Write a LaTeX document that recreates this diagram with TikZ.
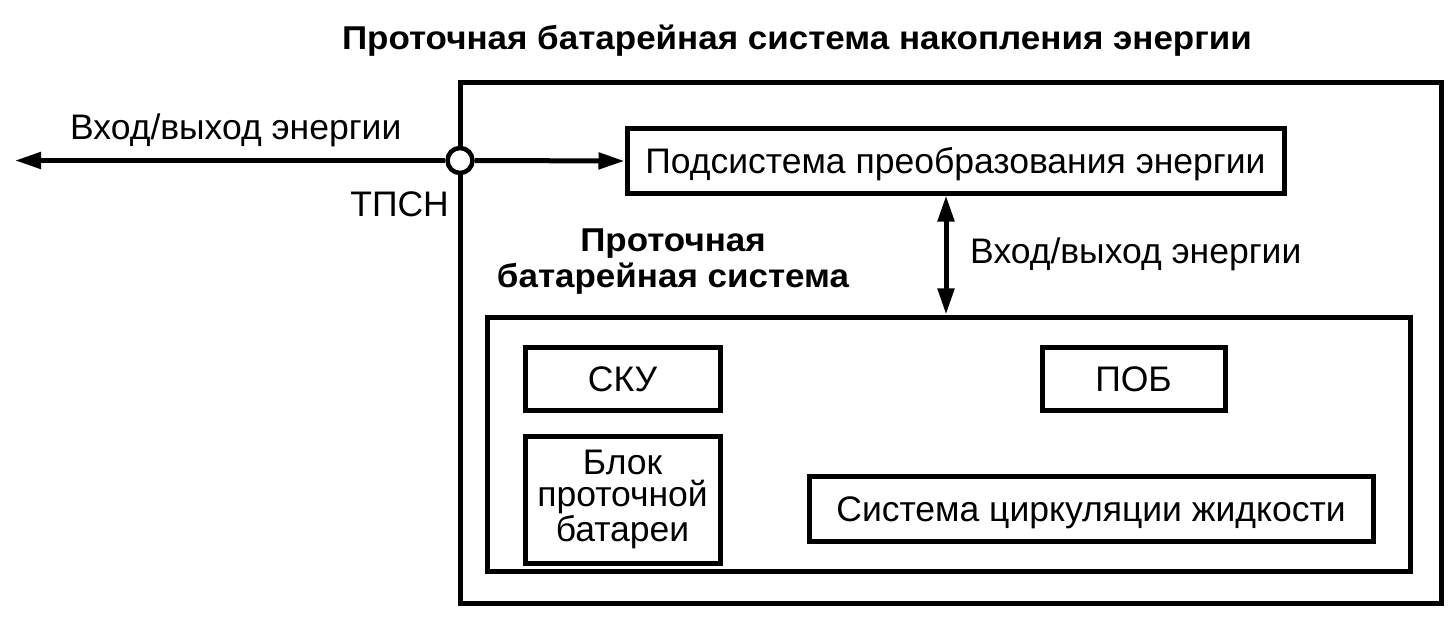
\documentclass[tikz,border=0pt]{standalone}
\usepackage{fontspec}
\setmainfont{Liberation Sans}
\newfontfamily\widebold{Liberation Sans Bold}[FakeStretch=1.06]
\usetikzlibrary{arrows.meta}
\begin{document}
\begin{tikzpicture}[x=1bp,y=-1bp,
  box/.style={draw, line width=5bp, inner sep=0pt},
  txt/.style={font=\fontsize{35.5bp}{32bp}\selectfont, inner sep=0pt, align=center},
  one/.style={text height=25bp, text depth=0pt},
  btxt/.style={font=\widebold\fontsize{33bp}{36bp}\selectfont, inner sep=0pt, align=center},
  arr/.style={line width=5bp, -{Triangle[length=26bp,width=16bp]}},
  darr/.style={line width=5bp, {Triangle[length=26bp,width=16bp]}-{Triangle[length=26bp,width=16bp]}}
]
\useasboundingbox (0,0) rectangle (1454,620);
% title
\node[btxt, anchor=base] (title) at (797,50) {Проточная батарейная система накопления энергии};
% outer and inner frames
\node[box, minimum width=981bp, minimum height=520bp] (outer) at (950.5,343) {};
\node[box, minimum width=923bp, minimum height=254bp] (inner) at (948.5,444) {};
% boxes
\node[box, txt, one, minimum width=657bp, minimum height=64bp] (conv) at (955.5,161) {Подсистема преобразования энергии};
\node[box, txt, one, minimum width=195bp, minimum height=63bp] (sku) at (622.5,378.5) {СКУ};
\node[box, txt, one, minimum width=183bp, minimum height=63bp] (pob) at (1133.5,378.5) {ПОБ};
\node[box, txt, minimum width=195bp, minimum height=127bp] (blok) at (622.5,499.5) {Блок\\проточной\\батареи};
\node[box, txt, one, minimum width=564bp, minimum height=65bp] (circ) at (1091,508.5) {Система циркуляции жидкости};
% connection point
\node[draw, circle, fill=white, line width=4.5bp, minimum size=25bp, inner sep=0pt] (tp) at (460,160.5) {};
\coordinate (leftend) at (15,160.5);
\coordinate (arrx) at (946,250);
% connectors
\draw[arr] (tp.west) -- (leftend);
\draw[arr] (tp.east) -- (conv.west);
\draw[darr] (conv.south -| arrx) -- (inner.north -| arrx);
% labels
\node[txt, anchor=base west] (lblL) at (70,140) {Вход/выход энергии};
\node[txt, anchor=base east] (lblT) at (449,217) {ТПСН};
\node[txt, anchor=base west] (lblR) at (970,263) {Вход/выход энергии};
\node[btxt] (lblS) at (673,261.5) {Проточная\\батарейная система};
\end{tikzpicture}
\end{document}
